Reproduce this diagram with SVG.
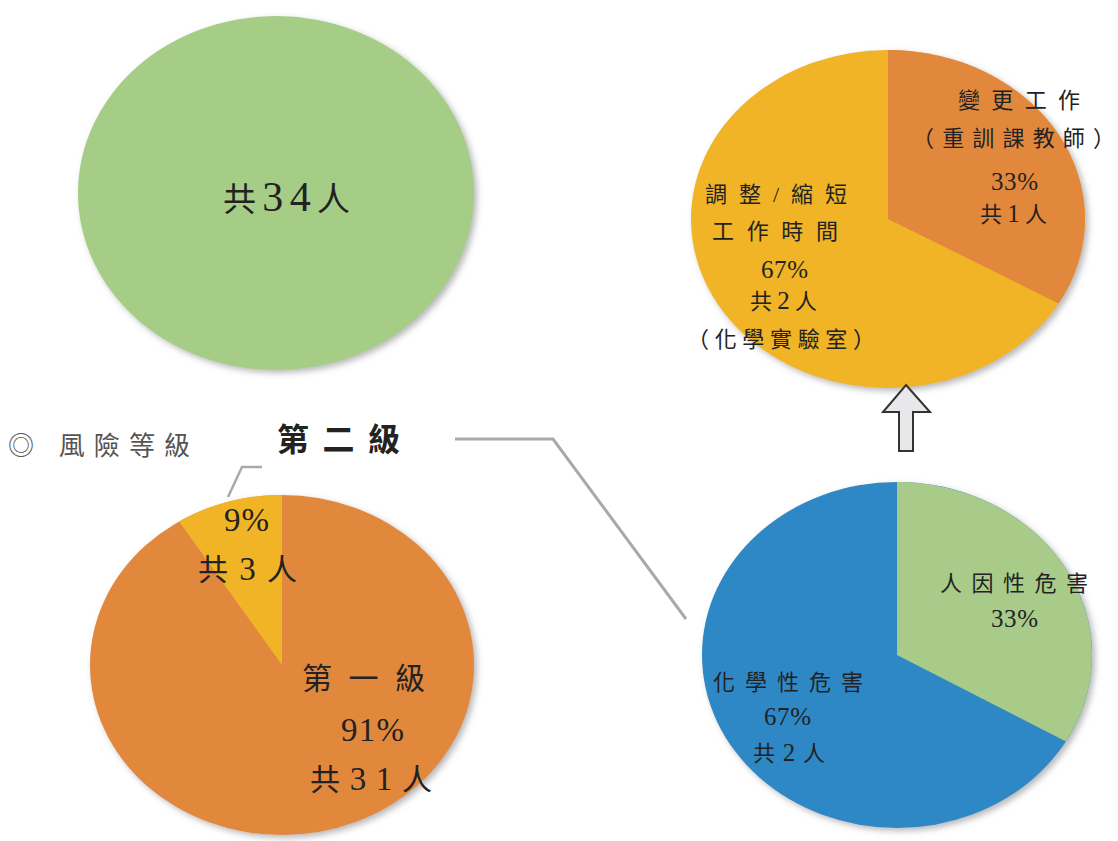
<svg xmlns="http://www.w3.org/2000/svg" width="1118" height="841" viewBox="0 0 1118 841">
<style>
.t{font-family:"Liberation Serif","Noto Sans CJK TC",serif;fill:#222;}
.s22{font-size:22px;}
.s30{font-size:30px;}
.n22{font-size:25px;}
.n30{font-size:33px;}
.conn{fill:none;stroke:#A9A9A9;stroke-width:3;stroke-linejoin:miter;}
</style>
<defs>
<filter id="sh" x="-10%" y="-10%" width="125%" height="125%">
<feDropShadow dx="3" dy="3" stdDeviation="3" flood-color="#888" flood-opacity="0.6"/>
</filter>
</defs>
<rect width="1118" height="841" fill="#FFFFFF"/>

<g id="total-pie">
<ellipse cx="276" cy="193" rx="198" ry="177" fill="#A6CD86" filter="url(#sh)"/>
<text class="t" x="223" y="211" font-size="33" textLength="127" lengthAdjust="spacing">共<tspan font-size="42">34</tspan>人</text>
</g>

<g id="measure-pie">
<g filter="url(#sh)">
<ellipse cx="888" cy="219" rx="197" ry="169" fill="#F0B428"/>
<path d="M888,219 L888,50 A197,169 0 0,1 1058.6,303.5 Z" fill="#E2883E"/>
</g>
<text class="t s22" x="958" y="108" textLength="122" lengthAdjust="spacing">變更工作</text>
<text class="t s22" x="912" y="146" textLength="203" lengthAdjust="spacing">（重訓課教師）</text>
<text class="t n22" x="991" y="190" textLength="47" lengthAdjust="spacing">33%</text>
<text class="t s22" x="980" y="222" textLength="67" lengthAdjust="spacing">共<tspan class="n22">1</tspan>人</text>
<text class="t s22" x="705" y="202" textLength="142" lengthAdjust="spacing">調整/縮短</text>
<text class="t s22" x="712" y="239" textLength="126" lengthAdjust="spacing">工作時間</text>
<text class="t n22" x="761" y="278" textLength="47" lengthAdjust="spacing">67%</text>
<text class="t s22" x="750" y="309" textLength="67" lengthAdjust="spacing">共<tspan class="n22">2</tspan>人</text>
<text class="t s22" x="687" y="347" textLength="188" lengthAdjust="spacing">（化學實驗室）</text>
</g>

<g id="arrow-up">
<path d="M906,385 L930,412 L913,412 L913,451 L899,451 L899,412 L883,412 Z" fill="#E8E8EA" stroke="#333" stroke-width="2" stroke-linejoin="miter"/>
</g>

<g id="risk-title">
<text class="t" x="8" y="455" font-size="26" style="fill:#555" textLength="182" lengthAdjust="spacing">◎ 風險等級</text>
</g>

<g id="level2-label">
<text class="t" x="277" y="451" font-size="32" font-weight="bold" textLength="123" lengthAdjust="spacing">第二級</text>
</g>

<g id="level-pie">
<g filter="url(#sh)">
<ellipse cx="282" cy="665" rx="192" ry="170" fill="#E2883E"/>
<path d="M282,665 L282,495 A192,170 0 0,0 179.1,521.5 Z" fill="#F0B428"/>
</g>
<text class="t n30" x="224" y="531" textLength="45" lengthAdjust="spacing">9%</text>
<text class="t s30" x="198" y="580" textLength="99" lengthAdjust="spacing">共<tspan class="n30">3</tspan>人</text>
<text class="t s30" x="302" y="689" textLength="123" lengthAdjust="spacing">第一級</text>
<text class="t n30" x="341" y="741" textLength="63" lengthAdjust="spacing">91%</text>
<text class="t s30" x="310" y="790" textLength="122" lengthAdjust="spacing">共<tspan class="n30">31</tspan>人</text>
</g>

<g id="hazard-pie">
<g filter="url(#sh)">
<ellipse cx="897" cy="655" rx="195" ry="173" fill="#2D88C6"/>
<path d="M897,655 L897,482 A195,173 0 0,1 1065.9,741.5 Z" fill="#A8CB89"/>
</g>
<text class="t s22" x="940" y="591" textLength="148" lengthAdjust="spacing">人因性危害</text>
<text class="t n22" x="991" y="627" textLength="47" lengthAdjust="spacing">33%</text>
<text class="t s22" x="713" y="690" textLength="150" lengthAdjust="spacing">化學性危害</text>
<text class="t n22" x="764" y="725" textLength="47" lengthAdjust="spacing">67%</text>
<text class="t s22" x="753" y="761" textLength="72" lengthAdjust="spacing">共<tspan class="n22">2</tspan>人</text>
</g>

<g id="connectors">
<polyline class="conn" points="455,439 553,439 686,619"/>
<polyline class="conn" points="262,467 242,467 228,497" style="stroke-width:2.5"/>
</g>
</svg>
